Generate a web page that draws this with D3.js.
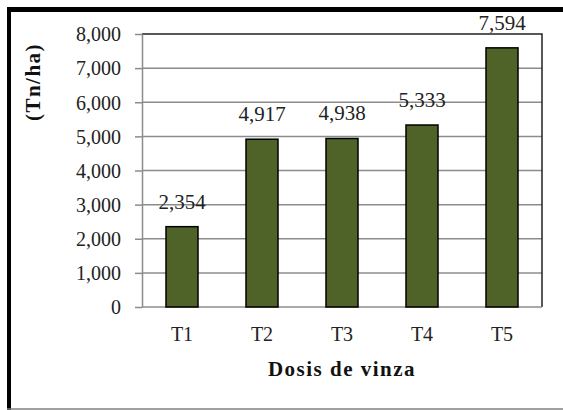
<!DOCTYPE html>
<html>
<head>
<meta charset="utf-8">
<script src="https://cdn.jsdelivr.net/npm/d3@7"></script>
<style>
  body { margin: 0; background: #fff; }
  svg { display: block; }
  svg text { font-family: "Liberation Serif", "Times New Roman", Tinos, "DejaVu Serif", serif; }
</style>
</head>
<body>
<div id="chart"></div>
<script>
"use strict"

const categories = ["T1", "T2", "T3", "T4", "T5"];
const values = [2354, 4917, 4938, 5333, 7594];
const yTicks = [0, 1000, 2000, 3000, 4000, 5000, 6000, 7000, 8000];
const xTitle = "Dosis de vinza";
const yTitle = "(Tn/ha)";

const W = 563, H = 410;
const plot = {left: 142, right: 542, top: 34, bottom: 307};

const svg = d3.select("#chart").append("svg")
  .attr("width", W)
  .attr("height", H);

svg.append("rect").attr("width", W).attr("height", H).attr("fill", "#fff");

// chart area frame (top/left heavy, bottom thin grey)
svg.append("line")
  .attr("x1", 7).attr("x2", W).attr("y1", 9.5).attr("y2", 9.5)
  .attr("stroke", "#000").attr("stroke-width", 5);
svg.append("line")
  .attr("x1", 9).attr("x2", 9).attr("y1", 7).attr("y2", H)
  .attr("stroke", "#000").attr("stroke-width", 4);
svg.append("line")
  .attr("x1", 7).attr("x2", W).attr("y1", 409).attr("y2", 409)
  .attr("stroke", "#808080").attr("stroke-width", 1.5);

const x = d3.scaleBand()
  .domain(categories)
  .range([plot.left, plot.right])
  .paddingInner(0.6)
  .paddingOuter(0.3);

const y = d3.scaleLinear()
  .domain([0, 8000])
  .range([plot.bottom, plot.top]);

const fmt = d3.format(",");

// gridlines
svg.append("g")
  .selectAll("line")
  .data(yTicks.filter((d) => d > 0 && d < 8000))
  .enter()
    .append("line")
      .attr("x1", plot.left)
      .attr("x2", plot.right)
      .attr("y1", (d) => y(d))
      .attr("y2", (d) => y(d))
      .attr("stroke", "#8c8c8c")
      .attr("stroke-width", 1.5);

// plot frame top and right
svg.append("path")
  .attr("d", `M${plot.left},${plot.top}H${plot.right}V${plot.bottom}`)
  .attr("fill", "none")
  .attr("stroke", "#222")
  .attr("stroke-width", 1.5);

// y axis
const yAxis = svg.append("g")
  .attr("transform", `translate(${plot.left},0)`)
  .attr("font-family", null)
  .call(d3.axisLeft(y).tickValues(yTicks).tickFormat(fmt).tickSizeInner(7).tickSizeOuter(0).tickPadding(14));
yAxis.attr("font-family", null);
yAxis.select(".domain").attr("stroke", "#8c8c8c").attr("stroke-width", 1.5);
yAxis.selectAll(".tick line").attr("stroke", "#8c8c8c").attr("stroke-width", 1.5);
yAxis.selectAll(".tick text")
  .attr("font-size", 20)
  .attr("fill", "#222")
  .attr("dy", "0.34em");

// x axis
const xAxis = svg.append("g")
  .attr("transform", `translate(0,${plot.bottom})`)
  .call(d3.axisBottom(x).tickSize(0).tickPadding(20));
xAxis.attr("font-family", null);
xAxis.select(".domain").attr("stroke", "#8c8c8c").attr("stroke-width", 1.5)
  .attr("d", `M${plot.left},0H${plot.right}`);
xAxis.selectAll(".tick text")
  .attr("font-size", 20)
  .attr("fill", "#222");

// bars
svg.append("g")
  .selectAll("rect")
  .data(values)
  .enter()
    .append("rect")
      .attr("x", (d, i) => x(categories[i]))
      .attr("y", (d) => y(d))
      .attr("width", x.bandwidth())
      .attr("height", (d) => plot.bottom - y(d))
      .attr("fill", "#4f6228")
      .attr("stroke", "#000")
      .attr("stroke-width", 1.5);

// data labels
svg.append("g")
  .selectAll("text")
  .data(values)
  .enter()
    .append("text")
      .attr("x", (d, i) => x(categories[i]) + x.bandwidth() / 2)
      .attr("y", (d) => y(d) - 18)
      .attr("text-anchor", "middle")
      .attr("font-size", 21)
      .attr("fill", "#222")
      .text((d) => fmt(d));

// axis titles
svg.append("text")
  .attr("x", (plot.left + plot.right) / 2)
  .attr("y", 376)
  .attr("text-anchor", "middle")
  .attr("font-weight", "bold")
  .attr("font-size", 21)
  .attr("letter-spacing", 1.5)
  .attr("fill", "#111")
  .text(xTitle);

svg.append("text")
  .attr("transform", "translate(40,82) rotate(-90)")
  .attr("text-anchor", "middle")
  .attr("font-weight", "bold")
  .attr("font-size", 21)
  .attr("letter-spacing", 1.5)
  .attr("fill", "#111")
  .text(yTitle);
</script>
</body>
</html>
